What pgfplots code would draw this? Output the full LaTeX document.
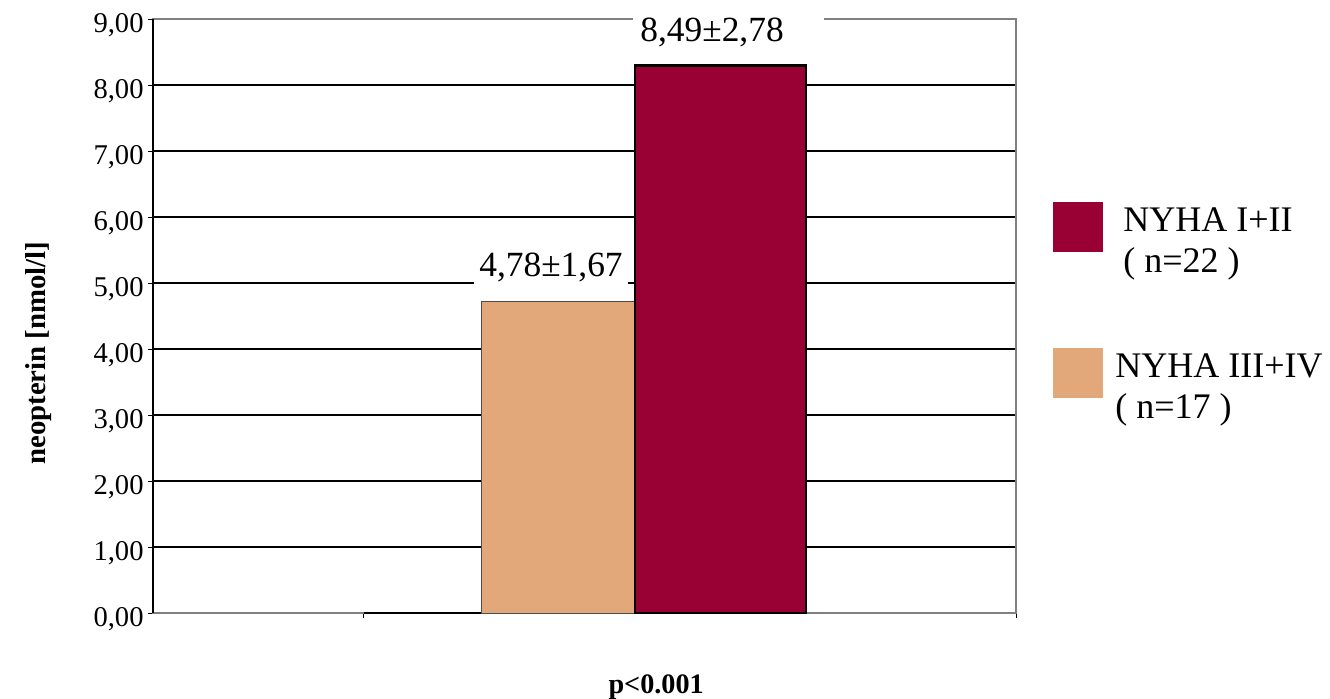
\documentclass[border=0pt]{standalone}
\usepackage{fontspec}
\setmainfont{Liberation Serif}
\usepackage{pgfplots}
\pgfplotsset{compat=1.18}
\definecolor{nyhared}{RGB}{153,0,51}
\definecolor{nyhatan}{RGB}{227,168,122}
\begin{document}
\begin{tikzpicture}
\path[use as bounding box] (0,0) rectangle (665pt,349pt);
\begin{axis}[
  at={(76.5pt,42.5pt)}, anchor=south west,
  scale only axis, width=431.5pt, height=297pt,
  xmin=153, xmax=1016, ymin=0, ymax=9,
  ytick={0,1,...,9}, xtick={364,1016}, xticklabels={},
  ytick pos=left, xtick pos=bottom,
  tick align=outside, major tick length=2.5pt,
  tick style={black, line width=0.5pt},
  ymajorgrids, grid style={black, line width=0.6pt},
  axis line style={gray, line width=0.8pt},
  clip=false,
  yticklabel style={font=\fontsize{14.3}{16}\selectfont, inner sep=0pt, xshift=-2pt, yshift=-3pt,
    /pgf/number format/fixed, /pgf/number format/fixed zerofill,
    /pgf/number format/precision=2, /pgf/number format/use comma,
    /pgf/number format/assume math mode=true},
  ylabel={neopterin [nmol/l]},
  every axis y label/.style={at={(axis description cs:-0.1251,0.4377)}, rotate=90, anchor=base,
    font=\bfseries\fontsize{14.4}{16}\selectfont},
  xlabel={p<0.001},
  every axis x label/.style={at={(axis description cs:0.583,-0.1347)}, anchor=base,
    font=\bfseries\fontsize{14.1}{16}\selectfont},
  legend style={at={(1.0429,0.692)}, anchor=north west, draw=none, fill=none, inner sep=0pt,
    font=\fontsize{18}{20.5}\selectfont, cells={anchor=west, align=left, inner sep=0pt},
    row sep=34.5pt, /tikz/every odd column/.append style={column sep=4pt}},
  legend image code/.code={\fill[#1,draw=none] (0pt,-5.5pt) rectangle (25pt,19.5pt);},
  reverse legend,
]
\addplot[ybar, bar width=154, bar shift=0pt, fill=nyhatan, draw=black!70, line width=0.5pt]
  coordinates {(558,4.72)};
\addplot[ybar, bar width=171, bar shift=0pt, fill=nyhared, draw=black, line width=1.4pt]
  coordinates {(720.5,8.30)};
\legend{NYHA III+IV\\( n=17 ), \hspace*{4pt}NYHA I+II\\\hspace*{4pt}( n=22 )}
\draw[black, line width=0.8pt] (rel axis cs:0,0) -- (rel axis cs:0,1);
\draw[black, line width=1pt] (axis cs:364,0) -- (axis cs:481,0);
\node[fill=white, inner xsep=2.5pt, inner ysep=3pt, anchor=center,
  font=\fontsize{17.7}{20}\selectfont] at (axis cs:551,5.24) {4,78±1,67};
\node[fill=white, inner xsep=0pt, inner ysep=3pt, anchor=west,
  font=\fontsize{17.7}{20}\selectfont] at (axis cs:633,8.80) {\hspace*{3.5pt}8,49±2,78\hspace*{20pt}};
\end{axis}
\end{tikzpicture}
\end{document}
